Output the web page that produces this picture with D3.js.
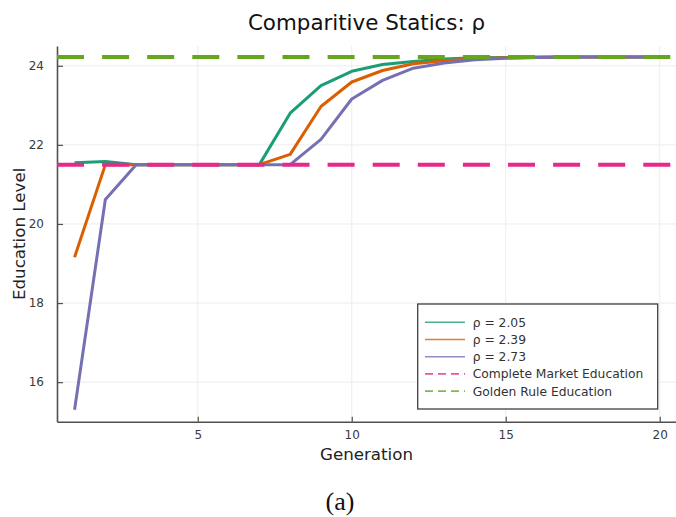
<!DOCTYPE html>
<html>
<head>
<meta charset="utf-8">
<script src="https://cdn.jsdelivr.net/npm/d3@7"></script>
<style>
  html, body { margin: 0; padding: 0; background: #ffffff; }
  svg { display: block; }
  text { font-family: "DejaVu Sans", sans-serif; }
</style>
</head>
<body>
<script>
// Education level by generation for three values of rho
const generations = d3.range(1, 21);
const rhoValues = [2.05, 2.39, 2.73];
const educationRho205 = [21.55, 21.58, 21.50, 21.50, 21.50, 21.50, 21.50, 22.80, 23.50, 23.86, 24.03, 24.11, 24.17, 24.20, 24.21, 24.22, 24.22, 24.22, 24.22, 24.22];
const educationRho239 = [19.16, 21.50, 21.50, 21.50, 21.50, 21.50, 21.50, 21.76, 22.97, 23.59, 23.88, 24.05, 24.13, 24.18, 24.20, 24.21, 24.22, 24.22, 24.22, 24.22];
const educationRho273 = [15.30, 20.62, 21.50, 21.50, 21.50, 21.50, 21.50, 21.50, 22.14, 23.16, 23.63, 23.94, 24.07, 24.15, 24.19, 24.21, 24.22, 24.22, 24.22, 24.22];
const completeMarketEducation = 21.50;
const goldenRuleEducation = 24.22;
const xTicks = [5, 10, 15, 20];
const yTicks = [16, 18, 20, 22, 24];
const refLabels = ["Complete Market Education", "Golden Rule Education"];

const W = 676, H = 517;
const plotLeft = 57, plotTop = 46, plotBottom = 421.7, plotRight = 677.3;

const svg = d3.select("body").append("svg")
  .attr("width", W).attr("height", H)
  .attr("viewBox", `0 0 ${W} ${H}`);

const x = d3.scaleLinear().domain([0.43, 20.57]).range([plotLeft, plotRight]);
const y = d3.scaleLinear().domain([15.0, 24.5]).range([plotBottom, plotTop]);

const seriesColors = ["#1b9e77", "#d95f02", "#7570b3"];
const refColors = ["#e7298a", "#66a61e"];

// grid
const grid = svg.append("g").attr("stroke", "#ececec").attr("stroke-width", 1);
grid.selectAll(".gx").data(xTicks).join("line").attr("class", "gx")
  .attr("x1", d => x(d)).attr("x2", d => x(d))
  .attr("y1", plotTop).attr("y2", plotBottom);
grid.selectAll(".gy").data(yTicks).join("line").attr("class", "gy")
  .attr("x1", plotLeft).attr("x2", plotRight)
  .attr("y1", d => y(d)).attr("y2", d => y(d));

// axes
const axisColor = "#505050";
const xAxis = svg.append("g").attr("transform", `translate(0,${plotBottom})`)
  .call(d3.axisBottom(x).tickValues(xTicks).tickSizeInner(-5).tickSizeOuter(0).tickPadding(9));
const yAxis = svg.append("g").attr("transform", `translate(${plotLeft},0)`)
  .call(d3.axisLeft(y).tickValues(yTicks).tickSizeInner(-6).tickSizeOuter(0).tickPadding(13));
[xAxis, yAxis].forEach(a => {
  a.select(".domain").attr("stroke", axisColor).attr("stroke-width", 1.6);
  a.selectAll(".tick line").attr("stroke", axisColor).attr("stroke-width", 1.2);
  a.selectAll(".tick text")
    .attr("fill", "#3a3a3a")
    .style("font-family", "'DejaVu Sans', sans-serif")
    .style("font-size", "12px");
});

// series lines
const seriesData = [educationRho205, educationRho239, educationRho273];
const line = d3.line().x((d, i) => x(generations[i])).y(d => y(d));
svg.append("g").selectAll("path").data(seriesData).join("path")
  .attr("d", d => line(d))
  .attr("fill", "none")
  .attr("stroke", (d, i) => seriesColors[i])
  .attr("stroke-width", 3)
  .attr("stroke-linejoin", "round");

// reference levels
const refValues = [completeMarketEducation, goldenRuleEducation];
svg.append("g").selectAll("line").data(refValues).join("line")
  .attr("x1", plotLeft).attr("x2", plotRight)
  .attr("y1", d => y(d)).attr("y2", d => y(d))
  .attr("stroke", (d, i) => refColors[i])
  .attr("stroke-width", 4)
  .attr("stroke-dasharray", "27,18.1");

// titles
svg.append("text").attr("x", 366.5).attr("y", 30)
  .attr("text-anchor", "middle").attr("fill", "#111")
  .style("font-size", "21.4px")
  .text("Comparitive Statics: ρ");
svg.append("text").attr("x", 366.5).attr("y", 460)
  .attr("text-anchor", "middle").attr("fill", "#222")
  .style("font-size", "16.7px")
  .text("Generation");
svg.append("text")
  .attr("transform", `translate(24.5,${(plotTop + plotBottom) / 2}) rotate(-90)`)
  .attr("text-anchor", "middle").attr("fill", "#222")
  .style("font-size", "16.7px")
  .text("Education Level");

// legend
const lg = svg.append("g");
lg.append("rect")
  .attr("x", 417.7).attr("y", 304).attr("width", 240).attr("height", 105)
  .attr("fill", "#ffffff").attr("stroke", "#404040").attr("stroke-width", 1.3);
const legendItems = rhoValues.map((r, i) => ({ label: `ρ = ${r.toFixed(2)}`, color: seriesColors[i], dash: null }))
  .concat(refLabels.map((l, i) => ({ label: l, color: refColors[i], dash: "8,5" })));
const rowH = 17.2;
const items = lg.selectAll("g.item").data(legendItems).join("g").attr("class", "item")
  .attr("transform", (d, i) => `translate(0,${322.3 + i * rowH})`);
items.append("line")
  .attr("x1", 425).attr("x2", 465).attr("y1", 0).attr("y2", 0)
  .attr("stroke", d => d.color).attr("stroke-width", 1.6)
  .attr("stroke-opacity", 0.8)
  .attr("stroke-dasharray", d => d.dash);
items.append("text")
  .attr("x", 472.7).attr("y", 4.4)
  .attr("fill", "#333")
  .style("font-size", "12.3px")
  .text(d => d.label);

// caption
svg.append("text").attr("x", 340).attr("y", 510)
  .attr("text-anchor", "middle").attr("fill", "#111")
  .style("font-family", "'Liberation Serif', 'DejaVu Serif', serif")
  .style("font-size", "26px")
  .text("(a)");
</script>
</body>
</html>
